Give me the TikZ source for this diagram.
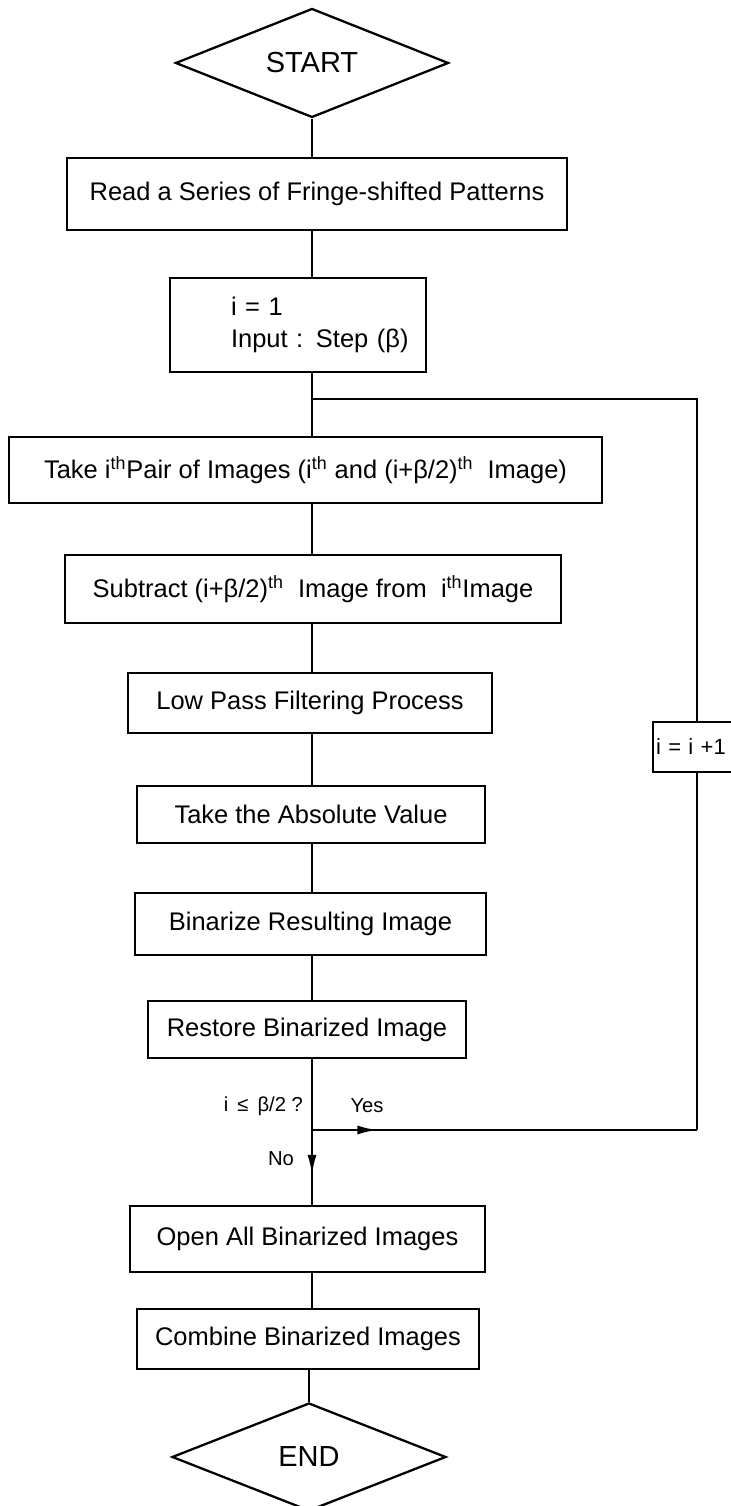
\documentclass[tikz,border=0pt]{standalone}
\usepackage{fontspec}
\setmainfont{Liberation Sans}
\usetikzlibrary{shapes.geometric,arrows.meta,decorations.markings}

\begin{document}
\begin{tikzpicture}[line width=1.3pt,
  every node/.style={font=\fontsize{14.5}{18.7}\selectfont},
  box/.style={draw, rectangle, inner sep=0pt},
  term/.style={draw, diamond, aspect=2.5, inner sep=0pt, minimum width=5.46cm, minimum height=2.18cm, font=\fontsize{16.5}{19}\selectfont},
  lbl/.style={inner sep=0pt, font=\fontsize{11.5}{13}\selectfont},
  midarrow/.style={postaction={decorate}, decoration={markings, mark=at position #1 with {\arrow{Latex[length=4mm,width=1.8mm]}}}}]
  \useasboundingbox (0,0) rectangle (14.6,30.12);
  \node[term] (start) at (6.24,28.86) {START};
  \node[box, minimum width=10cm, minimum height=1.44cm] (read) at (6.34,26.24) {Read a Series of Fringe-shifted Patterns};
  \node[box, minimum width=5.12cm, minimum height=1.88cm, text width=4.8cm, align=left] (init) at (5.96,23.62)
    {\hspace*{1.06cm}i = 1\\\hspace*{1.06cm}Input : Step (β)};
  \node[box, minimum width=11.86cm, minimum height=1.32cm] (take) at (6.11,20.72)
    {Take i\textsuperscript{th}Pair of Images (i\textsuperscript{th} and (i+β/2)\textsuperscript{th}\ \ Image)};
  \node[box, minimum width=9.92cm, minimum height=1.36cm] (sub) at (6.26,18.34)
    {Subtract (i+β/2)\textsuperscript{th}\ \ Image from\ \ i\textsuperscript{th}Image};
  \node[box, minimum width=7.28cm, minimum height=1.2cm] (low) at (6.2,16.06) {Low Pass Filtering Process};
  \node[box, minimum width=6.96cm, minimum height=1.14cm] (absv) at (6.22,13.83) {Take the Absolute Value};
  \node[box, minimum width=7.02cm, minimum height=1.24cm] (bin) at (6.21,11.64) {Binarize Resulting Image};
  \node[box, minimum width=6.36cm, minimum height=1.14cm] (rest) at (6.14,9.53) {Restore Binarized Image};
  \node[box, minimum width=7.1cm, minimum height=1.32cm] (open) at (6.15,5.34) {Open All Binarized Images};
  \node[box, minimum width=6.84cm, minimum height=1.2cm] (comb) at (6.16,3.34) {Combine Binarized Images};
  \node[term, minimum width=5.48cm, minimum height=2.16cm] (end) at (6.18,0.98) {END};
  \node[box, anchor=west, minimum height=1cm, text width=1.9cm, inner xsep=0.06cm, align=left, font=\fontsize{12.5}{14}\selectfont] (inc) at (13.04,15.18) {i = i +1};
  \coordinate (join) at (6.24,22.14);
  \coordinate (dec) at (6.24,7.52);
  \node[lbl, anchor=east] (cond) at (6.08,8.0) {i \,≤\, β/2 ?};
  \node[lbl] (yes) at (7.34,8.0) {Yes};
  \node[lbl] (no) at (5.62,6.94) {No};
  \draw (start.south) -- (read.north -| start) (read.south -| start) -- (init.north -| start);
  \draw (init.south -| start) -- (join) -- (take.north -| start);
  \draw (take.south -| start) -- (sub.north -| start) (sub.south -| start) -- (low.north -| start);
  \draw (low.south -| start) -- (absv.north -| start) (absv.south -| start) -- (bin.north -| start);
  \draw (bin.south -| start) -- (rest.north -| start) (rest.south -| start) -- (dec);
  \draw[midarrow=0.6] (dec) -- (open.north -| start);
  \draw (open.south -| start) -- (comb.north -| start) (comb.south -| end) -- (end.north);
  \draw[midarrow=0.17] (dec) -- (dec -| 13.94,0);
  \draw (dec -| 13.94,0) -- (13.94,0 |- inc.south) (13.94,0 |- inc.north) |- (join);
\end{tikzpicture}
\end{document}
